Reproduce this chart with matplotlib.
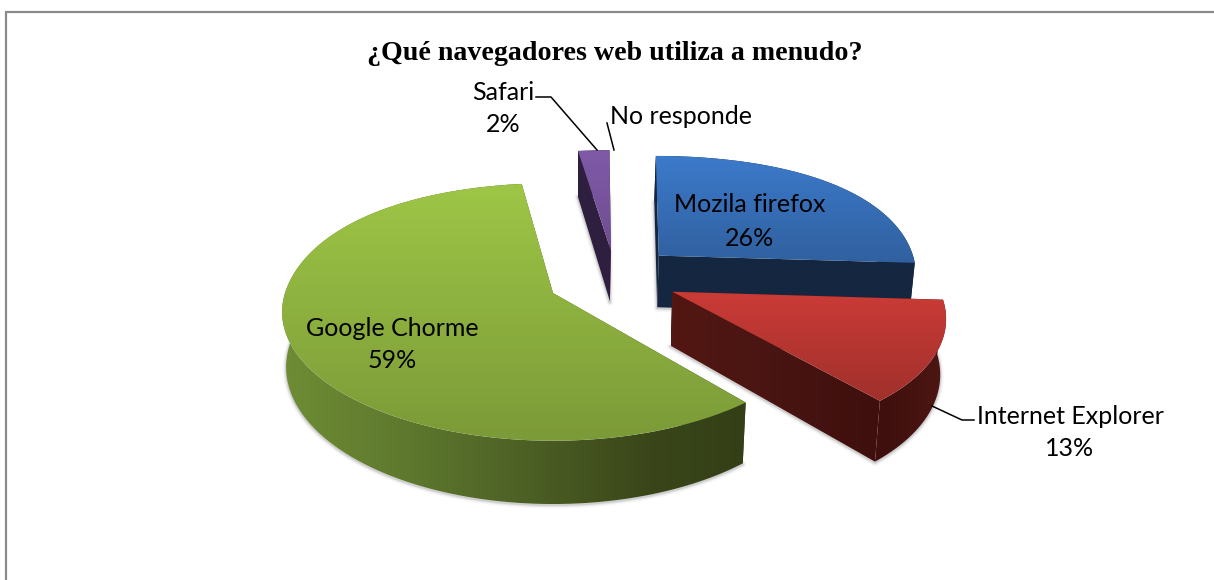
import numpy as np
import matplotlib
matplotlib.use("Agg")
import matplotlib.pyplot as plt
from matplotlib.patches import Polygon
from matplotlib.colors import to_rgb

# ---- data ----
categories = ["Mozila firefox", "Internet Explorer", "Google Chorme", "Safari", "No responde"]
values = [26, 13, 59, 2, 0]
percent_labels = ["26%", "13%", "59%", "2%", ""]
title = "¿Qué navegadores web utiliza a menudo?"

# ---- style ----
explode = [(0.41, 0.31), (0.446, 0.01), (0.0, 0.0), (0.225, 0.359), (0.0, 0.0)]
radius = [0.985, 1.0, 1.0, 1.0, 1.0]
top_colors = [("#3C7ACA", "#30609F"), ("#CB3B37", "#A0302B"),
              ("#9EC646", "#7B9A38"), ("#7F5AA8", "#6E4D90"), None]
wall_stops = [
    ([650, 920], ["#142640", "#142640"]),
    ([675, 760, 880, 945], ["#521713", "#4A1512", "#3E0F0D", "#4E1613"]),
    ([285, 400, 500, 650, 745], ["#6E8C34", "#5F7A2E", "#506527", "#3A4619", "#343F17"]),
    ([580, 612], ["#2E1F3F", "#2E1F3F"]),
    None,
]
label_pos = [(750, 205, 750, 239), (1070, 416, 1070, 449), (392, 328, 392, 361),
             (503, 92, 503, 125), (681, 117, 681, 117)]

W, H = 1214, 580
CX, CY, A, B, K, K_CURVE, WALL, SHRINK = 553, 293, 268, 126, 0.147, 0.0725, 54, 0.015

fig = plt.figure(figsize=(W / 100, H / 100), dpi=100, facecolor="white")
ax = fig.add_axes([0, 0, 1, 1])
ax.set_axis_off()


def project(x, y, lower=False):
    d = 1 + K * y
    dx = d - (K_CURVE * y * y if y > 0 else 0.0)
    sx = CX + A * x / dx
    sy = CY - B * y / d
    if lower:
        sx = CX + (sx - CX) * (1 - SHRINK)
        sy = sy + WALL / d
    return np.array([sx, sy])


def clipped_gradient(poly, rgb_array, extent, zorder):
    clip = Polygon(poly, closed=True, fc="none", ec="none", transform=ax.transData)
    ax.add_patch(clip)
    im = ax.imshow(rgb_array, extent=extent, aspect="auto", zorder=zorder,
                   interpolation="bilinear")
    im.set_clip_path(clip)


def wall_gradient(stops, x0, x1):
    xs, cols = stops
    rgb = np.array([to_rgb(c) for c in cols])
    grid = np.linspace(x0, x1, 256)
    return np.stack([np.interp(grid, xs, rgb[:, i]) for i in range(3)], axis=1)[None, :, :]


order = [3, 0, 2, 1]  # back to front
edges = np.cumsum([0] + values) / sum(values) * 2 * np.pi

for z, i in enumerate(order):
    t0, t1 = edges[i], edges[i + 1]
    ex, ey = explode[i]
    r = radius[i]
    ts = np.linspace(t0, t1, max(int((t1 - t0) * 60), 4))
    ox, oy = ex + r * np.sin(ts), ey + r * np.cos(ts)
    apex_top = project(ex, ey)
    apex_low = project(ex, ey, True)
    arc_top = np.array([project(a, b) for a, b in zip(ox, oy)])
    arc_low = np.array([project(a, b, True) for a, b in zip(ox, oy)])
    base = 10 + z * 10

    # soft shadow under the wedge
    low_poly = np.vstack([apex_low, arc_low])
    for lw, al in [(7, 0.07), (4, 0.14), (2, 0.22)]:
        ax.add_patch(Polygon(low_poly + [0, 1], closed=True, fc="none", ec="#808080",
                             lw=lw * 0.72, alpha=al, zorder=base, joinstyle="round"))

    # side faces: two cut faces and the outer band share one horizontal gradient
    all_pts = np.vstack([arc_top, arc_low, apex_top, apex_low])
    x0, x1 = all_pts[:, 0].min(), all_pts[:, 0].max()
    y0, y1 = all_pts[:, 1].min(), all_pts[:, 1].max()
    grad = wall_gradient(wall_stops[i], x0, x1)
    extent = (x0, x1, y1, y0)
    clipped_gradient(np.array([apex_top, arc_top[0], arc_low[0], apex_low]), grad, extent, base + 1)
    clipped_gradient(np.array([apex_top, arc_top[-1], arc_low[-1], apex_low]), grad, extent, base + 1)
    clipped_gradient(np.vstack([arc_top, arc_low[::-1]]), grad, extent, base + 2)

    # top face with vertical gradient
    top_poly = np.vstack([apex_top, arc_top])
    y0, y1 = top_poly[:, 1].min(), top_poly[:, 1].max()
    x0, x1 = top_poly[:, 0].min(), top_poly[:, 0].max()
    c0, c1 = np.array(to_rgb(top_colors[i][0])), np.array(to_rgb(top_colors[i][1]))
    f = np.linspace(0, 1, 256)[:, None, None]
    grad = c0[None, None, :] * (1 - f) + c1[None, None, :] * f
    clipped_gradient(top_poly, grad, (x0, x1, y1, y0), base + 5)

ax.set_xlim(0, W)
ax.set_ylim(H, 0)

# frame (open on the right)
frame_kw = dict(color="#8A8A8A", lw=1.6, zorder=60, solid_capstyle="butt")
ax.plot([5.5, 5.5], [11, H], **frame_kw)
ax.plot([5, W], [12, 12], **frame_kw)

# leaders
lead_kw = dict(color="black", lw=1.1, zorder=61, solid_joinstyle="round")
ax.plot([536, 551, 597], [97, 97, 150], **lead_kw)
ax.plot([607, 614], [123, 150], **lead_kw)
ax.plot([932, 962, 974], [406, 420, 420], **lead_kw)

# texts
ax.text(615, 53, title, family="Liberation Serif", weight="bold", fontsize=20.2,
        ha="center", va="center", color="black", zorder=70)
for name, pct, (x1, y1, x2, y2) in zip(categories, percent_labels, label_pos):
    ax.text(x1, y1, name, family="Lato", fontsize=18, ha="center", va="center",
            color="black", zorder=70)
    if pct:
        ax.text(x2, y2, pct, family="Lato", fontsize=18, ha="center", va="center",
                color="black", zorder=70)

fig.savefig("out.png", dpi=100, facecolor="white")
